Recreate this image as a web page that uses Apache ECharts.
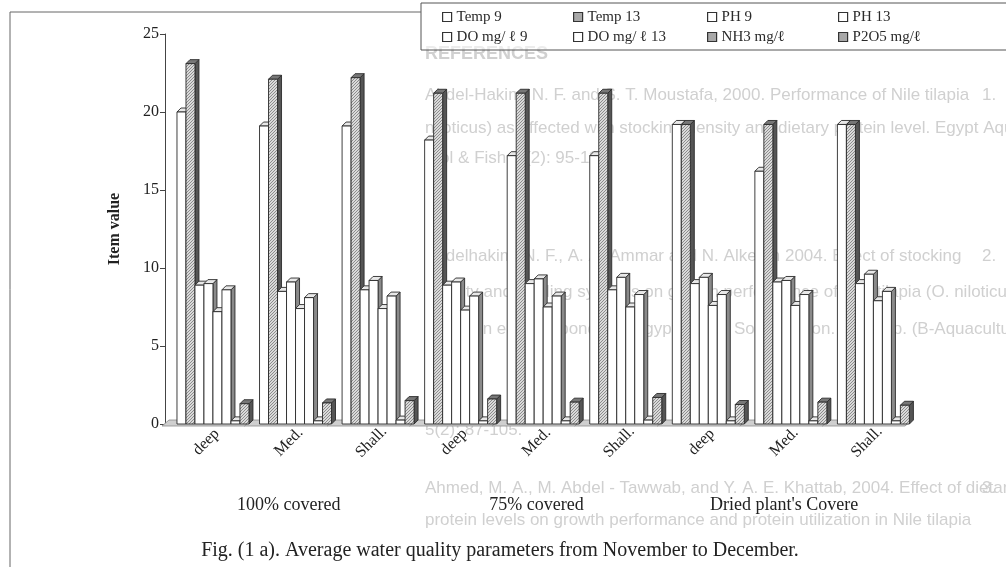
<!DOCTYPE html>
<html><head><meta charset="utf-8">
<script src="https://cdn.jsdelivr.net/npm/echarts@6/dist/echarts.min.js"></script>
<style>html,body{margin:0;padding:0;background:#fff}#c{width:1006px;height:567px}</style>
</head><body><div id="c"></div>
<script>
// ---- data ----
const categories = ['deep','Med.','Shall.','deep','Med.','Shall.','deep','Med.','Shall.'];
const groups = ['100% covered','75% covered',"Dried plant's Covere"];
const seriesNames = ['Temp 9','Temp 13','PH 9','PH 13','DO mg/ \u2113 9','DO mg/ \u2113 13','NH3 mg/\u2113','P2O5 mg/\u2113'];
const temp9  = [20.0, 19.1, 19.1, 18.2, 17.2, 17.2, 19.2, 16.2, 19.2];
const temp13 = [23.1, 22.1, 22.2, 21.2, 21.2, 21.2, 19.2, 19.2, 19.2];
const ph9    = [8.9, 8.5, 8.6, 8.9, 9.0, 8.6, 9.0, 9.1, 9.0];
const ph13   = [9.0, 9.1, 9.2, 9.1, 9.3, 9.4, 9.4, 9.2, 9.6];
const do9    = [7.2, 7.4, 7.4, 7.3, 7.5, 7.5, 7.6, 7.6, 7.9];
const do13   = [8.6, 8.1, 8.2, 8.2, 8.2, 8.3, 8.3, 8.3, 8.5];
const nh3    = [0.2, 0.2, 0.25, 0.2, 0.2, 0.25, 0.2, 0.2, 0.2];
const p2o5   = [1.3, 1.35, 1.5, 1.6, 1.4, 1.7, 1.25, 1.4, 1.2];
const yTicks = [0, 5, 10, 15, 20, 25];
const caption = 'Fig. (1 a). Average water quality parameters from November to December.';
const bgLines = [
  'REFERENCES',
  'Abdel-Hakim, N. F. and S. T. Moustafa, 2000. Performance of Nile tilapia',
  'niloticus) as affected with stocking density and dietary protein level. Egypt Aqua.',
  'Biol & Fish, 4(2): 95-116.',
  'Abdelhakim, N. F., A. A. Ammar and N. Alkeem 2004. Effect of stocking',
  'density and feeding systems on growth performance of Nile tilapia (O. niloticus)',
  'reared in earthen ponds. J. Egypt. Acad. Soc. Environ. Develop. (B-Aquaculture)',
  '5(2): 87-105.',
  'Ahmed, M. A., M. Abdel - Tawwab, and Y. A. E. Khattab, 2004. Effect of dietary',
  'protein levels on growth performance and protein utilization in Nile tilapia'
];
const bgNumbers = ['1.', '2.', '3.'];

const allSeries = [temp9, temp13, ph9, ph13, do9, do13, nh3, p2o5];
const hatched = [false, true, false, false, false, false, false, true];

// ---- styles ----
const SERIF = '"Liberation Serif","DejaVu Serif",serif';
function makePattern(){
  const c = document.createElement('canvas'); c.width = 3; c.height = 3;
  const g = c.getContext('2d');
  g.fillStyle = '#dadada'; g.fillRect(0,0,3,3);
  g.fillStyle = '#8c8c8c'; g.fillRect(0,0,1,1); g.fillRect(2,1,1,1); g.fillRect(1,2,1,1);
  return c;
}
const pattern = {image: makePattern(), repeat: 'repeat'};

function barRender(si){
  return function(params, api){
    const cat = api.value(0), v = api.value(1);
    const base = api.coord([cat, 0]);
    const top = api.coord([cat, v]);
    const bw = api.size([1, 0])[0];
    const left = base[0] - bw / 2;
    const w = bw * 0.109;
    const x0 = left + bw * 0.145 + si * w, x1 = x0 + w;
    const y0 = base[1], yt = top[1];
    const dx = 4, dy = 4;
    const fill = hatched[si] ? pattern : '#ffffff';
    const st = {stroke: '#2a2a2a', lineWidth: 0.9};
    return {type: 'group', children: [
      {type: 'polygon', shape: {points: [[x1, yt], [x1 + dx, yt - dy], [x1 + dx, y0 - dy], [x1, y0]]},
        style: Object.assign({fill: hatched[si] ? '#555' : '#8a8a8a'}, st)},
      {type: 'polygon', shape: {points: [[x0, yt], [x0 + dx, yt - dy], [x1 + dx, yt - dy], [x1, yt]]},
        style: Object.assign({fill: hatched[si] ? '#777' : '#e8e8e8'}, st)},
      {type: 'rect', shape: {x: x0, y: yt, width: w, height: y0 - yt},
        style: Object.assign({fill: fill}, st)}
    ]};
  };
}

function floorRender(params, api){
  const cat = api.value(0);
  const base = api.coord([cat, 0]);
  const bw = api.size([1, 0])[0];
  const l = base[0] - bw / 2, r = base[0] + bw / 2, y = base[1];
  return {type: 'polygon', shape: {points: [[l - 3, y + 2], [r - 3, y + 2], [r + 4, y - 4], [l + 4, y - 4]]},
    style: {fill: '#cfcfcf', stroke: '#8a8a8a', lineWidth: 0.8}};
}

const series = [{
  type: 'custom', name: 'floor', renderItem: floorRender, z: 3, silent: true,
  data: categories.map((c, i) => [i, 0]), encode: {x: 0, y: 1}
}];
allSeries.forEach((vals, si) => {
  series.push({
    type: 'custom', name: seriesNames[si], renderItem: barRender(si), z: 4 + si,
    itemStyle: {color: hatched[si] ? '#9a9a9a' : '#ffffff', borderColor: '#333', borderWidth: 1},
    data: vals.map((v, i) => [i, v]), encode: {x: 0, y: 1}
  });
});

const legendCols = [[0, 4], [1, 5], [2, 6], [3, 7]];
const legendLeft = [442, 573, 707, 838];
const legends = legendCols.map((idx, k) => ({
  orient: 'vertical', left: legendLeft[k], top: 9, padding: 0, itemWidth: 9, itemHeight: 9, itemGap: 4,
  icon: 'rect', selectedMode: false,
  textStyle: {fontFamily: SERIF, fontSize: 15, color: '#2a2a2a', lineHeight: 16},
  data: idx.map(i => ({name: seriesNames[i], itemStyle: {color: hatched[i] || i === 6 ? '#a8a8a8' : '#fff', borderColor: '#333', borderWidth: 1.2}}))
}));

const bgY = [55, 97, 130, 160, 258, 294, 331, 432, 490, 522];
const graphics = [];
bgLines.forEach((t, i) => {
  graphics.push({type: 'text', left: 425, top: bgY[i] - 10, z: 0, silent: true,
    style: {text: t, font: (i === 0 ? 'bold 18px ' : '17px ') + '"Liberation Sans",Arial,sans-serif', fill: '#d0d0d0'}});
});
[97, 258, 490].forEach((y, i) => {
  graphics.push({type: 'text', left: 982, top: y - 10, z: 0, silent: true,
    style: {text: bgNumbers[i], font: '17px "Liberation Sans",Arial,sans-serif', fill: '#d0d0d0'}});
});
graphics.push({type: 'rect', z: 1, silent: true, shape: {x: 421, y: 3, width: 600, height: 47},
  style: {fill: 'rgba(255,255,255,0.6)', stroke: '#555', lineWidth: 1}});
graphics.push({type: 'polyline', z: 1, silent: true, shape: {points: [[421, 12], [10, 12], [10, 567]]},
  style: {fill: null, stroke: '#666', lineWidth: 1}});

const chart = echarts.init(document.getElementById('c'), null, {renderer: 'canvas'});
chart.setOption({
  backgroundColor: '#fff',
  animation: false,
  title: {text: caption, left: 495, textAlign: 'center', top: 536,
    textStyle: {fontFamily: SERIF, fontSize: 20, fontWeight: 'normal', color: '#222'}},
  legend: legends,
  graphic: graphics,
  grid: {left: 165, right: 98, top: 34, bottom: 143, containLabel: false},
  xAxis: [{
    type: 'category', data: categories, boundaryGap: true,
    axisLine: {show: false}, axisTick: {show: false},
    axisLabel: {rotate: 45, align: 'center', verticalAlign: 'middle', margin: 18, interval: 0,
      fontFamily: SERIF, fontSize: 16, color: '#222'}
  }, {
    type: 'category', data: groups, position: 'bottom', boundaryGap: true,
    axisLine: {show: false}, axisTick: {show: false},
    axisLabel: {margin: 72, interval: 0, fontFamily: SERIF, fontSize: 18, color: '#222'}
  }],
  yAxis: {
    type: 'value', min: yTicks[0], max: yTicks[yTicks.length - 1], interval: 5,
    name: 'Item value', nameLocation: 'middle', nameGap: 42,
    nameTextStyle: {fontFamily: SERIF, fontSize: 16, fontWeight: 'bold', color: '#222'},
    axisLine: {show: true, lineStyle: {color: '#444', width: 1}},
    axisTick: {show: true, length: 5, lineStyle: {color: '#444'}},
    splitLine: {show: false},
    axisLabel: {fontFamily: SERIF, fontSize: 16, color: '#222', margin: 6}
  },
  series: series
});
</script></body></html>
